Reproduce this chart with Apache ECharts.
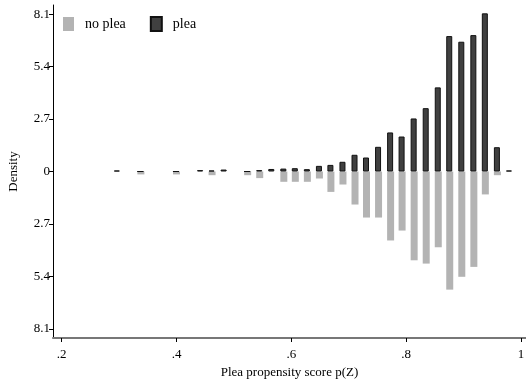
<!DOCTYPE html>
<html>
<head>
<meta charset="utf-8">
<script src="https://cdn.jsdelivr.net/npm/echarts@6/dist/echarts.min.js"></script>
<style>
  html, body { margin: 0; padding: 0; background: #fff; }
  #chart { width: 526px; height: 379px; }
</style>
</head>
<body>
<div id="chart"></div>
<script>
// Histogram bin centres for the propensity score p(Z)
const binCenters = [0.296, 0.337, 0.399, 0.441, 0.461, 0.482, 0.523, 0.544, 0.565, 0.586,
  0.606, 0.627, 0.648, 0.668, 0.689, 0.710, 0.730, 0.751, 0.772, 0.792,
  0.813, 0.834, 0.855, 0.875, 0.896, 0.917, 0.937, 0.958, 0.979];

// Density of defendants who pleaded (drawn above zero)
const pleaDensity = [0.05, 0, 0, 0.07, 0.05, 0.10, 0, 0.07, 0.13, 0.15,
  0.17, 0.12, 0.29, 0.34, 0.50, 0.86, 0.72, 1.27, 2.01, 1.80,
  2.73, 3.26, 4.33, 6.97, 6.68, 7.02, 8.14, 1.25, 0.05];

// Density of defendants who did not plead (drawn below zero)
const noPleaDensity = [0, 0.15, 0.15, 0, 0.19, 0, 0.19, 0.34, 0, 0.53,
  0.53, 0.53, 0.36, 1.05, 0.67, 1.70, 2.37, 2.37, 3.55, 3.04,
  4.57, 4.74, 3.90, 6.08, 5.42, 4.91, 1.18, 0.19, 0];

const xTicks = [0.2, 0.4, 0.6, 0.8, 1];
const yTicks = [-8.1, -5.4, -2.7, 0, 2.7, 5.4, 8.1];

const serif = 'Liberation Serif';

const chart = echarts.init(document.getElementById('chart'), null, { renderer: 'canvas' });

chart.setOption({
  animation: false,
  backgroundColor: '#ffffff',
  textStyle: { fontFamily: serif },
  grid: { left: 53, right: 0, top: 5, bottom: 41, containLabel: false, outerBoundsMode: 'none' },
  legend: {
    left: 63,
    top: 16,
    padding: 0,
    icon: 'rect',
    itemWidth: 11,
    itemHeight: 14,
    itemGap: 24,
    data: ['no plea', 'plea'],
    textStyle: { fontFamily: serif, fontSize: 14, color: '#000', padding: [0, 0, 0, 6] }
  },
  xAxis: {
    type: 'value',
    min: 0.1848,
    max: 1.0087,
    name: 'Plea propensity score p(Z)',
    nameLocation: 'middle',
    nameGap: 22,
    nameTextStyle: { fontFamily: serif, fontSize: 13, color: '#000' },
    splitLine: { show: false },
    axisLine: { show: true, onZero: false, lineStyle: { color: '#777', width: 2 } },
    axisTick: { show: true, length: 4, customValues: xTicks, lineStyle: { color: '#000' } },
    axisLabel: {
      customValues: xTicks,
      margin: 10,
      fontFamily: serif,
      fontSize: 13,
      color: '#000',
      formatter: v => (Math.abs(v - 1) < 1e-9 ? '1' : v.toFixed(1).replace(/^0/, ''))
    }
  },
  yAxis: {
    type: 'value',
    min: -8.57,
    max: 8.57,
    name: 'Density',
    nameLocation: 'middle',
    nameGap: 33,
    nameTextStyle: { fontFamily: serif, fontSize: 13, color: '#000' },
    splitLine: { show: false },
    axisLine: { show: true, onZero: false, lineStyle: { color: '#000', width: 1 } },
    axisTick: { show: true, length: 4, customValues: yTicks, lineStyle: { color: '#000' } },
    axisLabel: {
      customValues: yTicks,
      margin: 3,
      fontFamily: serif,
      fontSize: 13,
      color: '#000',
      formatter: v => (Math.abs(v) < 1e-9 ? '0' : Math.abs(v).toFixed(1))
    }
  },
  series: [
    {
      name: 'no plea',
      type: 'bar',
      barWidth: 7,
      barGap: '-100%',
      itemStyle: { color: '#b3b3b3' },
      data: binCenters.map((x, i) => [x, -noPleaDensity[i]])
    },
    {
      name: 'plea',
      type: 'bar',
      barWidth: 6,
      barGap: '-100%',
      itemStyle: { color: '#404040', borderColor: '#111', borderWidth: 1 },
      data: binCenters.map((x, i) => [x, pleaDensity[i]])
    }
  ]
});
</script>
</body>
</html>
